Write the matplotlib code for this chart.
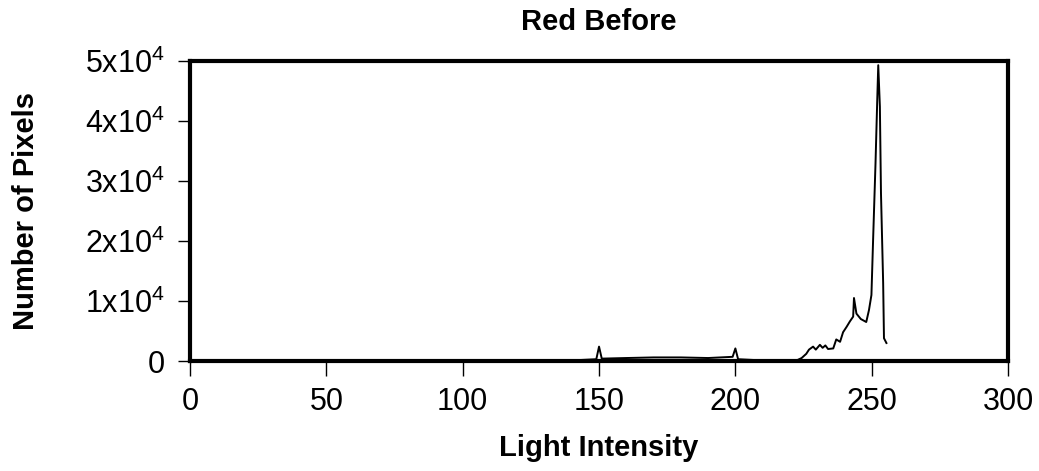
import matplotlib
matplotlib.use("Agg")
import matplotlib.pyplot as plt

# histogram of red channel
intensity = [0, 140, 149, 150, 151, 160, 170, 180, 190, 199, 200, 201, 210, 222,
             224.3, 226, 227, 228.5, 229.5, 231, 232, 233, 234, 235.9, 237, 238.4,
             239.5, 240.8, 242, 243.2, 243.5, 244.4, 246, 248, 249, 249.9, 250.5,
             251.4, 252, 252.4, 253, 253.4, 254.2, 254.5, 255.4]
pixels = [0, 100, 300, 2400, 400, 500, 600, 600, 500, 700, 2100, 300, 100, 0,
          500, 1200, 1900, 2400, 1900, 2700, 2200, 2600, 2000, 2100, 3600, 3200,
          4800, 5700, 6600, 7400, 10500, 7900, 7000, 6500, 8500, 11000, 20000,
          33000, 43000, 49300, 42400, 28000, 13000, 3800, 3000]

xticks = [0, 50, 100, 150, 200, 250, 300]
yticks = [0, 10000, 20000, 30000, 40000, 50000]
ytick_labels = ["0", "1x10$^4$", "2x10$^4$", "3x10$^4$", "4x10$^4$", "5x10$^4$"]

plt.rcParams['font.family'] = ['Liberation Sans', 'DejaVu Sans']
plt.rcParams['mathtext.fontset'] = 'custom'
plt.rcParams['mathtext.rm'] = 'Liberation Sans'
plt.rcParams['mathtext.it'] = 'Liberation Sans'

fig = plt.figure(figsize=(10.39, 4.71), dpi=100)
ax = fig.add_axes([0.1829, 0.2335, 0.7873, 0.637])

ax.plot(intensity, pixels, color='black', linewidth=1.4)

ax.set_xlim(0, 300)
ax.set_ylim(0, 50000)
ax.set_xticks(xticks)
ax.set_yticks(yticks)
ax.set_yticklabels(ytick_labels)

ax.tick_params(axis='x', direction='out', length=11, width=1, pad=8, labelsize=22)
ax.tick_params(axis='y', direction='out', length=9, width=1, pad=9, labelsize=22)
for sp in ax.spines.values():
    sp.set_linewidth(3)
    sp.set_color('black')

ax.set_title("Red Before", fontsize=21, fontweight='bold', pad=22)
ax.set_xlabel("Light Intensity", fontsize=21, fontweight='bold', labelpad=12)
ax.set_ylabel("Number of Pixels", fontsize=21, fontweight='bold', labelpad=33)

fig.savefig("out.png", dpi=100)
